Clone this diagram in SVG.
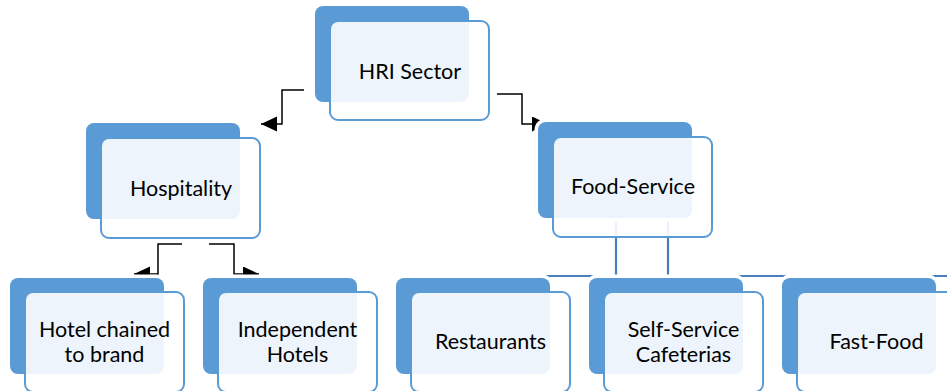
<svg xmlns="http://www.w3.org/2000/svg" width="947" height="391" viewBox="0 0 947 391">
<style>
.back{fill:#5B9BD5;stroke:#fff;stroke-width:7;paint-order:stroke}
.front{fill:#fff;fill-opacity:0.89;stroke:#5B9BD5;stroke-width:2}
.t{font-family:Lato,"Open Sans","Liberation Sans",sans-serif;font-size:21.5px;fill:#000;text-anchor:middle}
.arr{fill:none;stroke:#000;stroke-width:1.5}
.blue{fill:none;stroke:#4A7EBB;stroke-width:2.2}
</style>
<defs>
<marker id="ah" markerUnits="userSpaceOnUse" markerWidth="17" markerHeight="17" refX="16" refY="7.5" orient="auto">
<path d="M0,0 L16,7.5 L0,15 Z" fill="#000"/>
</marker>
</defs>
<rect width="947" height="391" fill="#fff"/>
<g id="connectors">
<path class="blue" d="M616,215 V276 M668,215 V276 M470,276 H947"/>
<path class="arr" d="M304,90 H282 V124 H261" marker-end="url(#ah)"/>
<path class="arr" d="M497,94 H522 V124 H548" marker-end="url(#ah)"/>
<path class="arr" d="M182,244 H158 V274 H134" marker-end="url(#ah)"/>
<path class="arr" d="M209,244 H234 V274 H259" marker-end="url(#ah)"/>
</g>
<g id="hri">
<rect class="back" x="315" y="6" width="154" height="96" rx="8"/>
<rect class="front" x="330" y="21" width="159" height="99" rx="8"/>
<text class="t" x="410" y="79">HRI Sector</text>
</g>
<g id="hospitality">
<rect class="back" x="86" y="123" width="154" height="96" rx="8"/>
<rect class="front" x="101" y="138" width="159" height="100" rx="8"/>
<text class="t" x="181" y="196">Hospitality</text>
</g>
<g id="foodservice">
<rect class="back" x="538" y="122" width="154" height="96" rx="8"/>
<rect class="front" x="553" y="137" width="159" height="100" rx="8"/>
<text class="t" x="633" y="194">Food-Service</text>
</g>
<g id="hotelchained">
<rect class="back" x="10" y="278" width="154" height="96" rx="8"/>
<rect class="front" x="25" y="292" width="159" height="100" rx="8"/>
<text class="t" x="104.5" y="337">Hotel chained</text>
<text class="t" x="104.5" y="362">to brand</text>
</g>
<g id="independent">
<rect class="back" x="203" y="278" width="154" height="96" rx="8"/>
<rect class="front" x="218" y="292" width="159" height="100" rx="8"/>
<text class="t" x="297.5" y="337">Independent</text>
<text class="t" x="297.5" y="362">Hotels</text>
</g>
<g id="restaurants">
<rect class="back" x="396" y="278" width="154" height="96" rx="8"/>
<rect class="front" x="411" y="292" width="159" height="100" rx="8"/>
<text class="t" x="490.5" y="349">Restaurants</text>
</g>
<g id="selfservice">
<rect class="back" x="589" y="278" width="154" height="96" rx="8"/>
<rect class="front" x="604" y="292" width="159" height="100" rx="8"/>
<text class="t" x="683.5" y="337">Self-Service</text>
<text class="t" x="683.5" y="362">Cafeterias</text>
</g>
<g id="fastfood">
<rect class="back" x="782" y="278" width="154" height="96" rx="8"/>
<rect class="front" x="797" y="292" width="159" height="100" rx="8"/>
<text class="t" x="876.5" y="349">Fast-Food</text>
</g>
</svg>
